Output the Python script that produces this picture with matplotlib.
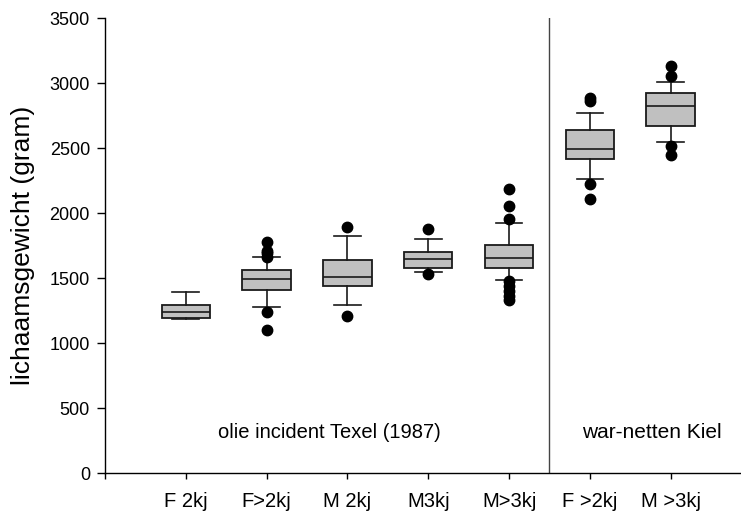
import matplotlib
matplotlib.use("Agg")
import matplotlib.pyplot as plt

plt.rcParams['font.family'] = ['Liberation Sans', 'DejaVu Sans']

categories = ["F 2kj", "F>2kj", "M 2kj", "M3kj", "M>3kj", "F >2kj", "M >3kj"]
q1 = [1190, 1405, 1436, 1575, 1575, 2415, 2667]
med = [1236, 1490, 1510, 1649, 1654, 2495, 2820]
q3 = [1292, 1561, 1638, 1697, 1754, 2636, 2923]
whislo = [1182, 1279, 1295, 1544, 1485, 2261, 2546]
whishi = [1395, 1659, 1825, 1800, 1920, 2772, 3005]
fliers = [
    [],
    [1098, 1241, 1665, 1690, 1710, 1775],
    [1208, 1890],
    [1528, 1874],
    [1330, 1365, 1400, 1440, 1475, 1956, 2054, 2182],
    [2105, 2223, 2860, 2885],
    [2446, 2515, 3056, 3133],
]
group_labels = ["olie incident Texel (1987)", "war-netten Kiel"]
yticks = [0, 500, 1000, 1500, 2000, 2500, 3000, 3500]

stats = []
for i, c in enumerate(categories):
    stats.append(dict(label=c, q1=q1[i], med=med[i], q3=q3[i],
                      whislo=whislo[i], whishi=whishi[i], fliers=fliers[i]))

fig = plt.figure(figsize=(7.41, 5.16), dpi=100)
ax = fig.add_axes([0.1417, 0.0833, 0.8583, 0.8818])

positions = list(range(1, len(categories) + 1))
ax.bxp(stats, positions=positions, widths=0.6, patch_artist=True,
       capwidths=0.33,
       boxprops=dict(facecolor='#c0c0c0', edgecolor='#1a1a1a', linewidth=1.3),
       medianprops=dict(color='#1a1a1a', linewidth=1.2),
       whiskerprops=dict(color='#1a1a1a', linewidth=1.2),
       capprops=dict(color='#1a1a1a', linewidth=1.2),
       flierprops=dict(marker='o', markerfacecolor='black', markeredgecolor='black',
                       markersize=7.5, linestyle='none'))

ax.set_xlim(0, 7.87)
ax.set_ylim(0, 3500)
ax.set_xticks([0] + positions)
ax.set_xticklabels([""] + categories)
ax.set_yticks(yticks)
ax.set_yticklabels([str(v) for v in yticks])

for s in ['top', 'right']:
    ax.spines[s].set_visible(False)
for s in ['left', 'bottom']:
    ax.spines[s].set_linewidth(1.0)
    ax.spines[s].set_color('black')

ax.tick_params(axis='x', direction='out', length=4.5, width=1, labelsize=14.5, pad=9)
ax.tick_params(axis='y', direction='out', length=5.8, width=1, labelsize=13, pad=5)

ax.axvline(5.5, color='#444444', linewidth=1.0)

ax.text(2.78, 315, group_labels[0], ha='center', va='center', fontsize=14.5)
ax.text(6.77, 315, group_labels[1], ha='center', va='center', fontsize=15)

ax.set_ylabel("lichaamsgewicht (gram)", fontsize=19)
ax.yaxis.set_label_coords(-0.11, 0.5)

fig.savefig("out.png", dpi=100)
